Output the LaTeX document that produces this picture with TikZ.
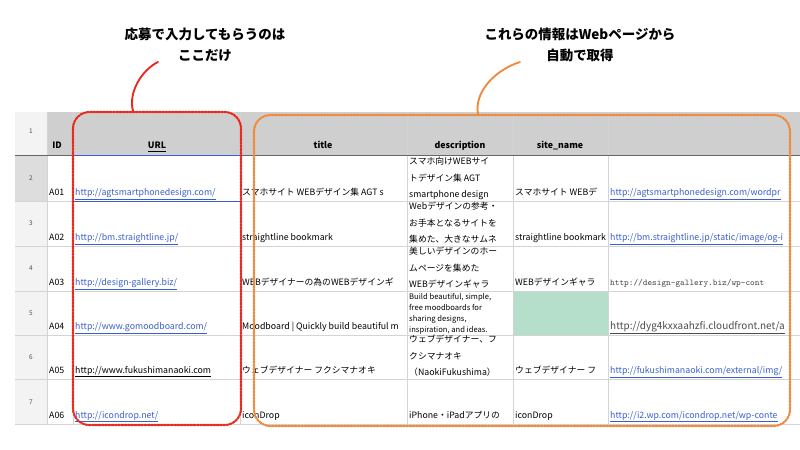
\documentclass[tikz,border=0pt]{standalone}
\usepackage{fontspec}
\setmainfont{Noto Sans CJK JP}
\usetikzlibrary{positioning,calc}
\definecolor{hdrgray}{HTML}{CFCFCF}
\definecolor{numgray}{HTML}{F3F3F3}
\definecolor{selgray}{HTML}{DDDDDD}
\definecolor{gridgray}{HTML}{D4D4D4}
\definecolor{linkblue}{HTML}{3A5FCD}
\definecolor{markred}{HTML}{E8291C}
\definecolor{markorange}{HTML}{F08A3E}
\definecolor{emptygreen}{HTML}{B5DFCA}
\tikzset{
  cell/.style={font=\fontsize{7.5}{9}\selectfont, inner sep=0pt, anchor=base west},
  link/.style={cell, text=linkblue},
  rownum/.style={font=\fontsize{5.5}{6}\selectfont, text=black!70},
  hdr/.style={font=\bfseries\fontsize{7.5}{9}\selectfont, anchor=base},
  note/.style={font=\bfseries\fontsize{11.5}{18}\selectfont, align=center},
  marker/.style={line width=1.8pt, rounded corners=14pt, densely dotted, line cap=round},
  leader/.style={line width=1.6pt, line cap=round}
}
% text in one cell, cut at the column edges
\newcommand\celltxt[5][cell]{%
  \begin{scope}\clip (#2,#3-46) rectangle (#4,#3);
  \node[#1] at (#2+2,#3-6) {#5};\end{scope}}
\newcommand\cellpar[4]{%
  \begin{scope}\clip (#1,#2-45) rectangle (#3,#2);
  \node[cell, anchor=north west, align=left, font=\fontsize{7.5}{14}\selectfont] at (#1+2,#2-45+1) {#4};\end{scope}}
\begin{document}
\begin{tikzpicture}[x=0.03cm,y=-0.03cm]
\useasboundingbox (0,0) rectangle (800,450);
\fill[white] (0,0) rectangle (800,450);
% sheet
\fill[hdrgray] (47,112) rectangle (800,155);
\fill[numgray] (15,112) rectangle (47,424);
\fill[selgray] (15,155) rectangle (47,201);
\fill[emptygreen] (513,291) rectangle (608,335);
\foreach \y in {155,201,246,291,335,379,424} \draw[gridgray] (15,\y) -- (800,\y);
\foreach \x in {47,73,240,407,513,608} \draw[gridgray] (\x,112) -- (\x,424);
\draw[black!60, line width=0.8pt] (15,155) -- (800,155);
\draw[linkblue, line width=0.8pt] (73,155) -- (240,155) (73,201) -- (240,201);
\foreach \n/\y in {1/131,2/178,3/223,4/268,5/313,6/357,7/402}
  \node[rownum] (r\n) at (31,\y) {\n};
% headers
\node[hdr] (hid) at (57,149) {ID};
\node[hdr] (hurl) at (157,149) {\underline{URL}};
\node[hdr] (htitle) at (323,149) {title};
\node[hdr] (hdesc) at (460,149) {description};
\node[hdr] (hsite) at (560,149) {site\_name};
% ID column
\foreach \i/\y in {1/201,2/246,3/291,4/335,5/379,6/424}
  \node[cell] (id\i) at (49,\y-6) {A0\i};
% URL column
\celltxt[link]{73}{201}{240}{\underline{http://agtsmartphonedesign.com/}}
\celltxt[link]{73}{246}{240}{\underline{http://bm.straightline.jp/}}
\celltxt[link]{73}{291}{240}{\underline{http://design-gallery.biz/}}
\celltxt[link]{73}{335}{240}{\underline{http://www.gomoodboard.com/}}
\celltxt{73}{379}{240}{\underline{http://www.fukushimanaoki.com}}
\celltxt[link]{73}{424}{240}{\underline{http://icondrop.net/}}
% title column
\celltxt{240}{201}{407}{スマホサイト WEBデザイン集 AGT s}
\celltxt{240}{246}{407}{straightline bookmark}
\celltxt{240}{291}{407}{WEBデザイナーの為のWEBデザインギ}
\celltxt{240}{335}{407}{Moodboard | Quickly build beautiful m}
\celltxt{240}{379}{407}{ウェブデザイナー フクシマナオキ}
\celltxt{240}{424}{407}{iconDrop}
% description column
\cellpar{407}{201}{513}{スマホ向けWEBサイ\\トデザイン集 AGT\\smartphone design}
\cellpar{407}{246}{513}{Webデザインの参考・\\お手本となるサイトを\\集めた、大きなサムネ}
\cellpar{407}{291}{513}{美しいデザインのホー\\ムページを集めた\\WEBデザインギャラ}
\begin{scope}\clip (407,291) rectangle (513,335);
\node[cell, anchor=north west, align=left, font=\fontsize{6.5}{9.5}\selectfont] (d4) at (409,293) {Build beautiful, simple,\\free moodboards for\\sharing designs,\\inspiration, and ideas.};
\end{scope}
\cellpar{407}{379}{513}{ウェブデザイナー、フ\\クシマナオキ\\（NaokiFukushima）}
\celltxt{407}{424}{513}{iPhone・iPadアプリの}
% site_name column
\celltxt{513}{201}{608}{スマホサイト WEBデ}
\celltxt{513}{246}{608}{straightline bookmark}
\celltxt{513}{291}{608}{WEBデザインギャラ}
\celltxt{513}{379}{608}{ウェブデザイナー フ}
\celltxt{513}{424}{608}{iconDrop}
% image column
\celltxt[link]{608}{201}{800}{\underline{http://agtsmartphonedesign.com/wordpr}}
\celltxt[link]{608}{246}{800}{\underline{http://bm.straightline.jp/static/image/og-i}}
\celltxt[cell, font=\ttfamily\fontsize{7.5}{9}\selectfont, text=black!70]{608}{291}{800}{http://design-gallery.biz/wp-cont}
\celltxt[cell, font=\fontsize{8.5}{10}\selectfont, text=black!70]{608}{335}{800}{\underline{http://dyg4kxxaahzfi.cloudfront.net/a}}
\celltxt[link]{608}{379}{800}{\underline{http://fukushimanaoki.com/external/img/}}
\celltxt[link]{608}{424}{800}{\underline{http://i2.wp.com/icondrop.net/wp-conte}}
% markings
\draw[marker, markred] (73,112) rectangle (241,425);
\draw[marker, markorange] (254,115) rectangle (790,426);
\node[note] (ninput) at (205,45) {応募で入力してもらうのは\\ここだけ};
\node[note] (nauto) at (580,45) {これらの情報はWebページから\\自動で取得};
\coordinate (redtop) at (133,111);
\coordinate (orgtop) at (478,114);
\draw[leader, markred] (redtop) .. controls (128,92) and (142,70) .. (158,62);
\draw[leader, markorange] (orgtop) .. controls (474,92) and (495,70) .. (520,62);
\end{tikzpicture}
\end{document}
